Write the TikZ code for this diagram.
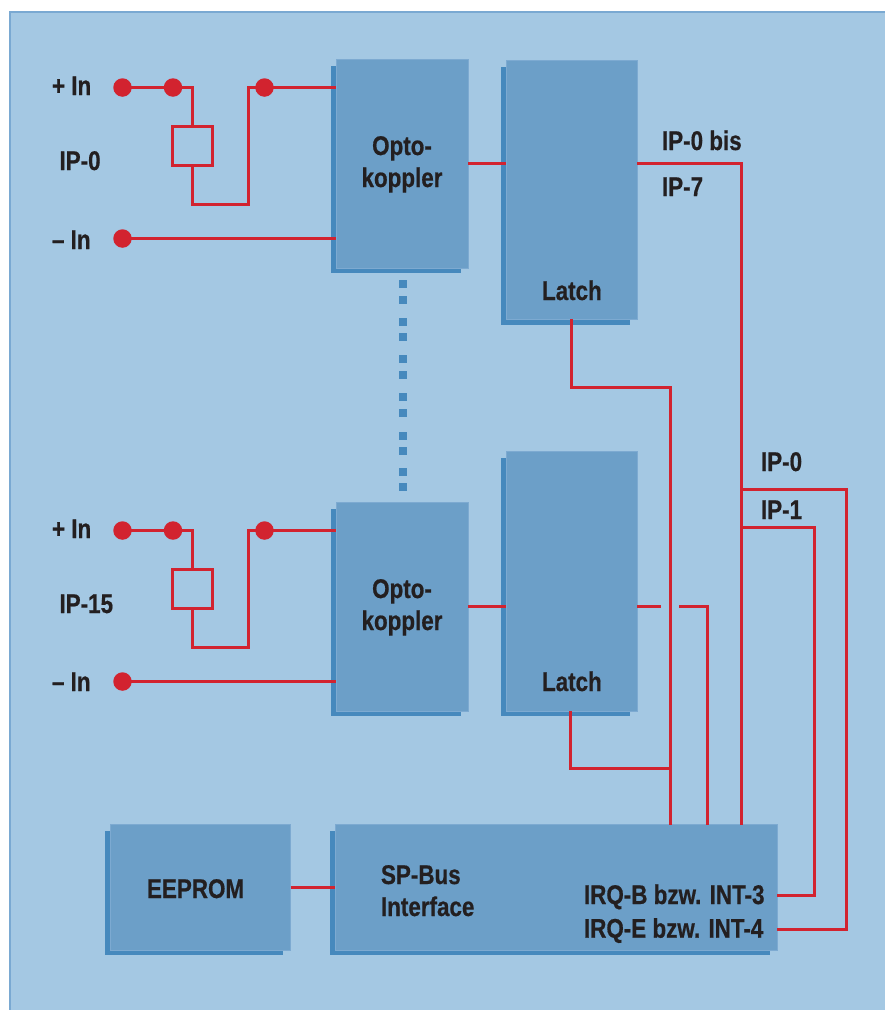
\documentclass[tikz,border=0pt]{standalone}
\usepackage{fontspec}
\newfontfamily\lblfont{Liberation Sans Bold}[FakeStretch=0.83,FakeBold=0.6]
\definecolor{bgblue}{HTML}{A4C8E3}
\definecolor{frameblue}{HTML}{7AA9D2}
\definecolor{boxblue}{HTML}{6C9FC8}
\definecolor{boxedge}{HTML}{7DAAD1}
\definecolor{shadowblue}{HTML}{4689BD}
\definecolor{wirered}{HTML}{D2232F}
\definecolor{inkdark}{HTML}{231F20}
\tikzset{
  block/.style={anchor=north west,fill=boxblue,draw=boxedge,line width=.6pt,inner sep=0pt,outer sep=0pt},
  blockshadow/.style={anchor=north west,fill=shadowblue,inner sep=0pt,outer sep=0pt},
  pin/.style={circle,fill=wirered,minimum size=18.5pt,inner sep=0pt,outer sep=0pt},
  relay/.style={anchor=north west,draw=wirered,line width=3pt,inner sep=0pt,outer sep=0pt,minimum width=40pt,minimum height=39pt},
  wire/.style={draw=wirered,line width=3pt,line join=miter},
  lbl/.style={font=\lblfont\fontsize{27}{32}\selectfont,text=inkdark,inner sep=0pt,outer sep=0pt},
  lblw/.style={lbl,anchor=base west},
  lblc/.style={lbl,anchor=base},
  dotsq/.style={fill=shadowblue,inner sep=0pt,outer sep=0pt,minimum size=8pt,anchor=north west},
}
\begin{document}
\begin{tikzpicture}[x=1pt,y=-1pt]
\useasboundingbox (0,0) rectangle (885,1010);
\fill[bgblue] (9,11) rectangle (885,1010);
\draw[frameblue,line width=2pt] (9.5,1010) -- (9.5,12) -- (885,12);

% shadows
\node[blockshadow,minimum width=130pt,minimum height=207pt] (s1) at (331,66) {};
\node[blockshadow,minimum width=129pt,minimum height=258pt] (s2) at (501,67) {};
\node[blockshadow,minimum width=130pt,minimum height=207pt] (s3) at (331,509) {};
\node[blockshadow,minimum width=129pt,minimum height=258pt] (s4) at (501,458) {};
\node[blockshadow,minimum width=178pt,minimum height=124pt] (s5) at (105,831) {};
\node[blockshadow,minimum width=440pt,minimum height=124pt] (s6) at (330,831) {};

% blocks
\node[block,minimum width=132pt,minimum height=208.5pt] (opto1) at (336,59.5) {};
\node[block,minimum width=131pt,minimum height=259pt] (latch1) at (506,60) {};
\node[block,minimum width=132pt,minimum height=208.5pt] (opto2) at (336,502.5) {};
\node[block,minimum width=131pt,minimum height=260pt] (latch2) at (506,451) {};
\node[block,minimum width=180pt,minimum height=125.5pt] (eeprom) at (110.5,824.5) {};
\node[block,minimum width=442pt,minimum height=125.5pt] (bus) at (335,824.5) {};

% dotted link
\foreach \n/\y in {1/280,2/296,3/318,4/333,5/355,6/371,7/393,8/409,9/432,10/447,11/468,12/483}
  \node[dotsq] (dq\n) at (399,\y) {};

% input circuit IP-0
\node[pin] (p1) at (122.5,87.5) {};
\node[pin] (p2) at (173,87.5) {};
\node[pin] (p3) at (264.5,87.5) {};
\node[pin] (p4) at (122.5,238.5) {};
\node[relay] (r1) at (172.5,126.5) {};
\coordinate (c1) at (192.5,204.5);
\coordinate (c2) at (248.5,204.5);
\draw[wire] (p1.center) -- (p2.center);
\draw[wire] (p2.center) -| (r1.north);
\draw[wire] (r1.south) |- (c1) -- (c2) |- (p3.center);
\draw[wire] (p3.center) -- (opto1.west |- p3);
\draw[wire] (p4.center) -- (opto1.west |- p4);

% input circuit IP-15
\node[pin] (p5) at (122.5,530.5) {};
\node[pin] (p6) at (173,530.5) {};
\node[pin] (p7) at (264.5,530.5) {};
\node[pin] (p8) at (122.5,681.5) {};
\node[relay] (r2) at (172.5,569.5) {};
\coordinate (c3) at (192.5,647.5);
\coordinate (c4) at (248.5,647.5);
\draw[wire] (p5.center) -- (p6.center);
\draw[wire] (p6.center) -| (r2.north);
\draw[wire] (r2.south) |- (c3) -- (c4) |- (p7.center);
\draw[wire] (p7.center) -- (opto2.west |- p7);
\draw[wire] (p8.center) -- (opto2.west |- p8);

% block links
\coordinate (y1) at (0,163.5);
\coordinate (y2) at (0,606.5);
\draw[wire] (opto1.east |- y1) -- (latch1.west |- y1);
\draw[wire] (opto2.east |- y2) -- (latch2.west |- y2);
\draw[wire] (eeprom.east |- 0,887.5) -- (bus.west |- 0,887.5);

% bus lines
\coordinate (tr0) at (741.5,163.5);
\coordinate (t0) at (741.5,489.5);
\coordinate (t1) at (741.5,527.5);
\coordinate (k0) at (846.5,489.5);
\coordinate (k1) at (814.5,527.5);
\coordinate (a1) at (571.5,387.5);
\coordinate (a2) at (670.5,387.5);
\coordinate (a3) at (570.5,768.5);
\coordinate (a4) at (670.5,768.5);
\coordinate (d1) at (661,606.5);
\coordinate (d2) at (679,606.5);
\coordinate (d3) at (707.5,606.5);
\draw[wire] (latch1.east |- y1) -- (tr0) -- (tr0 |- bus.north);
\draw[wire] (t0) -- (k0) |- (bus.east |- 0,929.5);
\draw[wire] (t1) -- (k1) |- (bus.east |- 0,895.5);
\draw[wire] (a1 |- latch1.south) -- (a1) -- (a2) -- (a2 |- bus.north);
\draw[wire] (a3 |- latch2.south) -- (a3) -- (a4);
\draw[wire] (latch2.east |- y2) -- (d1);
\draw[wire] (d2) -- (d3) -- (d3 |- bus.north);

% labels
\node[lblw] (t1a) at (52,95) {+ In};
\node[lblw] (t1b) at (59.5,170) {IP-0};
\node[lblw] (t1c) at (52,249) {– In};
\node[lblw] (t2a) at (52,538) {+ In};
\node[lblw] (t2b) at (59.5,613) {IP-15};
\node[lblw] (t2c) at (52,691) {– In};
\node[lblc] (o1a) at (402,155) {Opto-};
\node[lblc] (o1b) at (402,187) {koppler};
\node[lblc] (o2a) at (402,598) {Opto-};
\node[lblc] (o2b) at (402,630) {koppler};
\node[lblw] (l1) at (542,300) {Latch};
\node[lblw] (l2) at (542,691) {Latch};
\node[lblw] (i1) at (662,150) {IP-0 bis};
\node[lblw] (i2) at (662,196) {IP-7};
\node[lblw] (i3) at (761,471) {IP-0};
\node[lblw] (i4) at (761,519) {IP-1};
\node[lblw] (e1) at (147,898) {EEPROM};
\node[lblw] (b1) at (381,884) {SP-Bus};
\node[lblw] (b2) at (381,916) {Interface};
\node[lblw] (q1) at (584,904) {IRQ-B bzw. INT-3};
\node[lblw] (q2) at (584,937.7) {IRQ-E bzw. INT-4};
\end{tikzpicture}
\end{document}
